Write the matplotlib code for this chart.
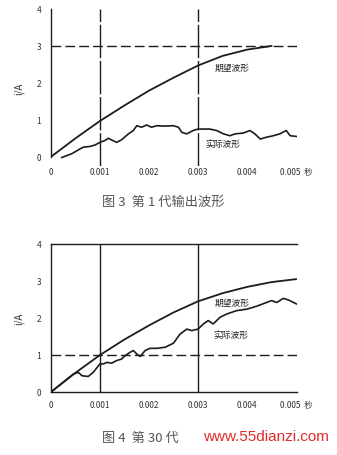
import matplotlib
matplotlib.use("Agg")
import matplotlib.pyplot as plt

plt.rcParams['font.family'] = ['Noto Sans CJK SC', 'DejaVu Sans']

# ---------------- data ----------------
xticks = [0, 0.001, 0.002, 0.003, 0.004, 0.005]
xticklabels = ["0", "0.001", "0.002", "0.003", "0.004", "0.005  秒"]
yticks = [0, 1, 2, 3, 4]
ylabel = "i/A"

# Figure 3 (1st generation)
exp1_t = [0, 0.0005, 0.001, 0.0015, 0.002, 0.0025, 0.003, 0.0035, 0.004, 0.0045]
exp1_y = [0, 0.50, 0.97, 1.39, 1.79, 2.14, 2.47, 2.73, 2.90, 3.00]
act1_t = [0.00022, 0.00042, 0.00059, 0.00066, 0.0008, 0.0009, 0.001, 0.0011, 0.00117,
          0.00123, 0.00134, 0.00144, 0.00158, 0.00168, 0.00175, 0.00185, 0.00195,
          0.00205, 0.00216, 0.00229, 0.0025, 0.0026, 0.00267, 0.00277, 0.0029, 0.003,
          0.00324, 0.00338, 0.00352, 0.00365, 0.00376, 0.00392, 0.00406, 0.00416,
          0.00427, 0.0044, 0.00454, 0.00467, 0.0048, 0.00488, 0.00501]
act1_y = [-0.02, 0.08, 0.21, 0.26, 0.28, 0.32, 0.39, 0.44, 0.50,
          0.46, 0.39, 0.46, 0.62, 0.71, 0.84, 0.80, 0.86,
          0.80, 0.84, 0.83, 0.84, 0.80, 0.66, 0.62, 0.71, 0.75,
          0.75, 0.71, 0.62, 0.57, 0.62, 0.64, 0.71, 0.62,
          0.48, 0.53, 0.57, 0.62, 0.71, 0.57, 0.55]
ref1_x = [0.001, 0.003]
ref1_y = 3

# Figure 4 (30th generation)
exp2_t = [0, 0.0005, 0.001, 0.0015, 0.002, 0.0025, 0.003, 0.0035, 0.004, 0.0045, 0.005]
exp2_y = [0, 0.52, 1.00, 1.42, 1.80, 2.15, 2.45, 2.67, 2.84, 2.97, 3.05]
act2_t = [0, 0.00046, 0.00056, 0.00063, 0.00076, 0.00086, 0.001, 0.00107, 0.00114,
          0.00124, 0.00134, 0.00144, 0.00151, 0.00161, 0.00168, 0.00175, 0.00182,
          0.00192, 0.00202, 0.00216, 0.00233, 0.0025, 0.00263, 0.00277, 0.00287,
          0.003, 0.00311, 0.00321, 0.00331, 0.00345, 0.00359, 0.00379, 0.004,
          0.0042, 0.0044, 0.0045, 0.00461, 0.00474, 0.00484, 0.00501]
act2_y = [0, 0.49, 0.53, 0.44, 0.42, 0.53, 0.76, 0.76, 0.80,
          0.78, 0.85, 0.89, 0.98, 1.07, 1.12, 1.03, 0.96,
          1.12, 1.18, 1.18, 1.21, 1.32, 1.56, 1.70, 1.66,
          1.70, 1.84, 1.93, 1.84, 2.02, 2.11, 2.20, 2.24,
          2.32, 2.42, 2.47, 2.42, 2.53, 2.49, 2.38]
ref2_x = [0.001, 0.003]
ref2_y = 1

label_exp = "期望波形"
label_act = "实际波形"
caption1 = "图 3  第 1 代输出波形"
caption2 = "图 4  第 30 代"
watermark = "www.55dianzi.com"

# ---------------- drawing ----------------
W, H = 337, 456
fig = plt.figure(figsize=(W / 100, H / 100), dpi=100)
fig.patch.set_facecolor("white")

LC = "#1c1c1c"
XMAX = 0.00502

def style(ax, ylim, xpad):
    ax.set_xlim(0, XMAX)
    ax.set_ylim(*ylim)
    ax.set_xticks(xticks)
    ax.set_xticklabels(xticklabels)
    ax.set_yticks(yticks)
    ax.tick_params(length=0, labelsize=6, colors="#333333")
    ax.tick_params(axis="x", pad=xpad)
    ax.tick_params(axis="y", pad=7)
    for s in ["top", "right", "bottom"]:
        ax.spines[s].set_visible(False)
    ax.spines["left"].set_color(LC)
    ax.spines["left"].set_linewidth(1.0)
    ax.set_ylabel(ylabel, fontsize=7, color="#333333", labelpad=9)

# top chart
ax1 = fig.add_axes([51 / W, 1 - 167 / H, 246 / W, 157 / H])
style(ax1, (-0.25, 4.0), 0.5)
ax1.spines["left"].set_bounds(0, 4)
ax1.vlines(ref1_x, -0.25, 4.0, colors=LC, lw=1.0, linestyles=(0, (24, 2)))
ax1.hlines(ref1_y, 0, XMAX, colors=LC, lw=1.0, linestyles=(0, (7, 3)))
ax1.plot(exp1_t, exp1_y, color=LC, lw=1.3)
ax1.plot(act1_t, act1_y, color=LC, lw=1.2)
ax1.text(0.00369, 2.43, label_exp, fontsize=6.3, ha="center", va="center", color="#222222")
ax1.text(0.00351, 0.35, label_act, fontsize=6.3, ha="center", va="center", color="#222222")

# bottom chart
ax2 = fig.add_axes([51 / W, 1 - 393 / H, 246 / W, 148 / H])
style(ax2, (0, 4.0), 6)
ax2.spines["bottom"].set_visible(True)
ax2.spines["top"].set_visible(True)
for s in ["bottom", "top"]:
    ax2.spines[s].set_color(LC)
    ax2.spines[s].set_linewidth(1.0)
ax2.vlines(ref2_x, 0, 4.0, colors=LC, lw=1.0)
ax2.hlines(ref2_y, 0, XMAX, colors=LC, lw=1.0, linestyles=(0, (7, 3)))
ax2.plot(exp2_t, exp2_y, color=LC, lw=1.3)
ax2.plot(act2_t, act2_y, color=LC, lw=1.2)
ax2.text(0.00369, 2.43, label_exp, fontsize=6.3, ha="center", va="center", color="#222222")
ax2.text(0.00367, 1.57, label_act, fontsize=6.3, ha="center", va="center", color="#222222")

# captions
fig.text(102 / W, 1 - 202 / H, caption1, fontsize=9.5, color="#555555", ha="left", va="center")
fig.text(102 / W, 1 - 438 / H, caption2, fontsize=9.5, color="#555555", ha="left", va="center")
fig.text(266 / W, 1 - 437 / H, watermark, fontsize=11, color="#e02828", ha="center", va="center",
         family=["Liberation Sans", "DejaVu Sans"])

fig.savefig("out.png", dpi=100, facecolor="white")
